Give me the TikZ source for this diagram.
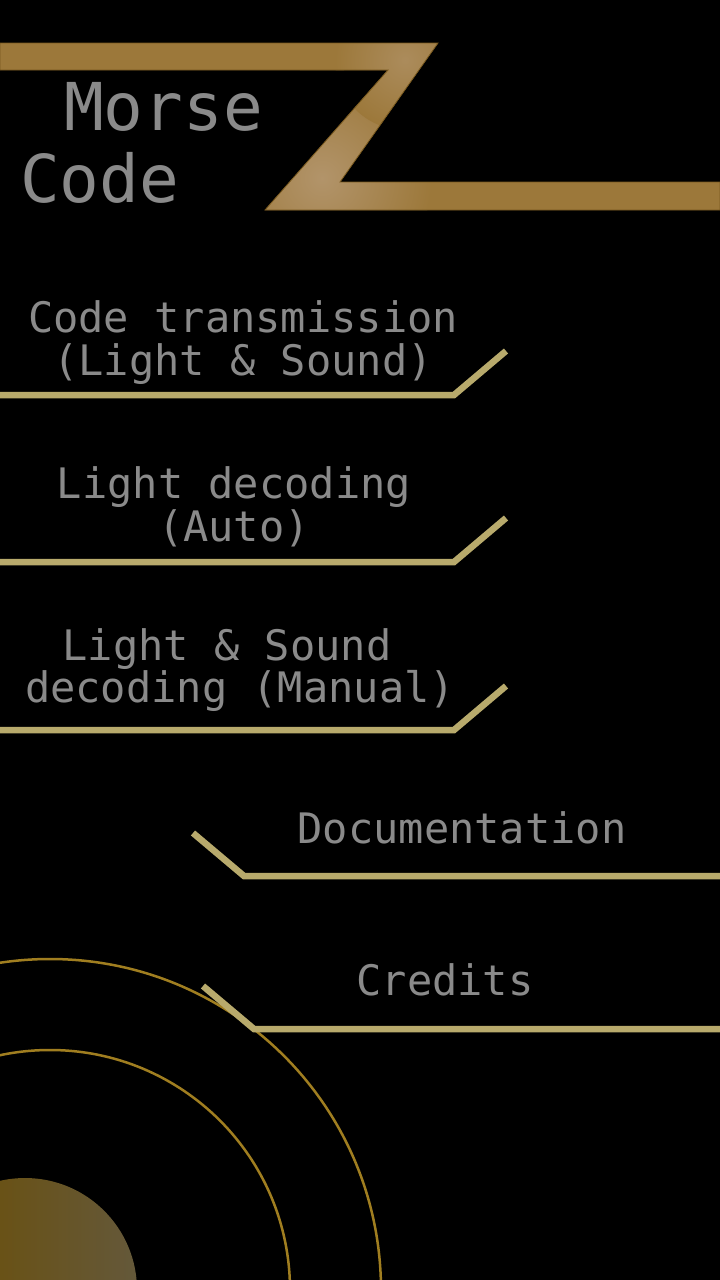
\documentclass[tikz,border=0pt]{standalone}
\usepackage{fontspec}
\setmonofont{DejaVu Sans Mono}
\usetikzlibrary{positioning}

\definecolor{zgold}{RGB}{156,120,58}
\definecolor{zlight}{RGB}{178,148,106}
\definecolor{zedge}{RGB}{120,88,30}
\definecolor{btngold}{RGB}{184,170,108}
\definecolor{ringgold}{RGB}{160,126,32}
\definecolor{txtgray}{RGB}{138,138,138}
\definecolor{discdark}{RGB}{108,78,0}
\definecolor{disclight}{RGB}{100,88,58}

\tikzset{
  btnline/.style={draw=btngold, line width=6.5pt, line join=miter},
  btntext/.style={text=txtgray, font=\ttfamily\fontsize{42}{42}\selectfont, anchor=base, inner sep=0pt},
  titletext/.style={text=txtgray, font=\ttfamily\fontsize{66}{66}\selectfont, anchor=base west, inner sep=0pt},
  ring/.style={draw=ringgold, line width=2.5pt}
}

\begin{document}
\begin{tikzpicture}[x=1pt, y=-1pt]
  % The background
  \fill [black] (0,0) rectangle (720,1280);
  \useasboundingbox (0,0) rectangle (720,1280);

  % The corners of the Z bar
  \coordinate (z1) at (0,43);
  \coordinate (z2) at (438,43);
  \coordinate (z3) at (340,182);
  \coordinate (z4) at (720,182);
  \coordinate (z5) at (720,210);
  \coordinate (z6) at (265,210);
  \coordinate (z7) at (388,70);
  \coordinate (z8) at (0,70);

  % The Z bar with its glow
  \begin{scope}
    \clip (z1) -- (z2) -- (z3) -- (z4) -- (z5) -- (z6) -- (z7) -- (z8) -- cycle;
    \fill [zgold] (0,0) rectangle (720,260);
    \shade [inner color=zlight, outer color=zgold] (322,178) circle (110);
    \shade [inner color=zlight!70!zgold, outer color=zgold] (405,60) circle (70);
  \end{scope}
  \draw [zedge, line width=0.8pt] (z1) -- (z2) -- (z3) -- (z4) -- (z5) -- (z6) -- (z7) -- (z8) -- cycle;

  % The title
  \node [titletext] (morse) at (64,130) {Morse};
  \node [titletext] (code) at (20,202) {Code};

  % The rings and the disc
  \draw [ring] (50,1290) circle (331);
  \draw [ring] (50,1290) circle (240);
  \shade [left color=discdark, right color=disclight] (25,1290) circle (112);

  % Code transmission
  \node [btntext] (trans1) at (243,332) {Code transmission};
  \node [btntext] (trans2) at (243,375) {(Light \& Sound)};
  \coordinate (ta) at (0,395);
  \coordinate (tb) at (454,395);
  \coordinate (tc) at (506,351);
  \draw [btnline] (ta) -- (tb) -- (tc);

  % Light decoding
  \node [btntext] (auto1) at (234,498) {Light decoding};
  \node [btntext] (auto2) at (234,541) {(Auto)};
  \coordinate (aa) at (0,562);
  \coordinate (ab) at (454,562);
  \coordinate (ac) at (506,518);
  \draw [btnline] (aa) -- (ab) -- (ac);

  % Light & Sound decoding
  \node [btntext] (man1) at (227,660) {Light \& Sound};
  \node [btntext] (man2) at (240,702) {decoding (Manual)};
  \coordinate (ma) at (0,730);
  \coordinate (mb) at (454,730);
  \coordinate (mc) at (506,686);
  \draw [btnline] (ma) -- (mb) -- (mc);

  % Documentation
  \node [btntext] (docs) at (462,843) {Documentation};
  \coordinate (da) at (193,833);
  \coordinate (db) at (244,876);
  \coordinate (dc) at (720,876);
  \draw [btnline] (da) -- (db) -- (dc);

  % Credits
  \node [btntext] (credits) at (445,995) {Credits};
  \coordinate (ca) at (203,986);
  \coordinate (cb) at (254,1029);
  \coordinate (cc) at (720,1029);
  \draw [btnline] (ca) -- (cb) -- (cc);
\end{tikzpicture}
\end{document}
